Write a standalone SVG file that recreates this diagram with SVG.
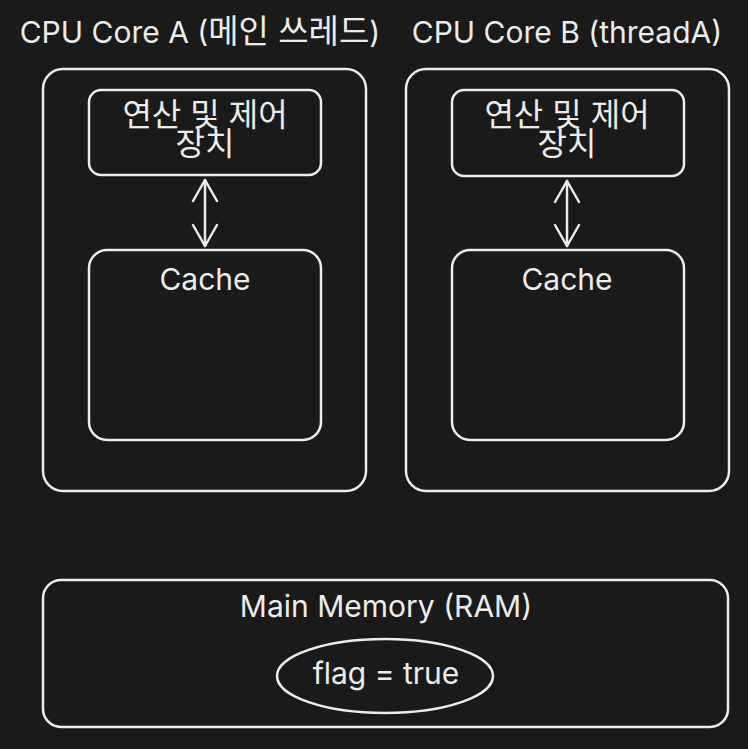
<svg xmlns="http://www.w3.org/2000/svg" width="748" height="749" viewBox="0 0 748 749">
<defs>
<style>
.box{fill:none;stroke:#ececec;stroke-width:2.5;stroke-linecap:round;stroke-linejoin:round}
.t{fill:#ececec;font-family:Inter,"Noto Sans CJK KR","Noto Sans",sans-serif;text-anchor:middle}
.title{font-size:30px}
.lbl{font-size:30px}
.kr{font-size:32px}
.conn{fill:none;stroke:#ececec;stroke-width:2.5;stroke-linecap:round;stroke-linejoin:round}
</style>
<marker id="ah" viewBox="0 0 26 28" refX="23" refY="14" markerWidth="26" markerHeight="28" markerUnits="userSpaceOnUse" orient="auto-start-reverse">
<path d="M2 2 L23 14 L2 26" fill="none" stroke="#ececec" stroke-width="2.5" stroke-linecap="round" stroke-linejoin="round"/>
</marker>
</defs>
<rect width="748" height="749" fill="#1a1a1a"/>
<g id="coreA">
<text class="t title" x="200" y="43">CPU Core A (<tspan font-size="33">메인 쓰레드</tspan>)</text>
<rect class="box" x="43" y="69" width="323" height="422" rx="20"/>
</g>
<g id="aluA">
<rect class="box" x="89" y="90" width="232" height="85" rx="12"/>
<text class="t kr" x="205" y="126">연산 및 제어<tspan x="205" dy="29">장치</tspan></text>
</g>
<g id="cacheA">
<rect class="box" x="89" y="250" width="232" height="190" rx="18"/>
<text class="t lbl" x="205" y="290">Cache</text>
</g>
<g id="coreB">
<text class="t title" x="567" y="43">CPU Core B (threadA)</text>
<rect class="box" x="406" y="69" width="323" height="422" rx="20"/>
</g>
<g id="aluB">
<rect class="box" x="452" y="90" width="232" height="86" rx="12"/>
<text class="t kr" x="567" y="126">연산 및 제어<tspan x="567" dy="29">장치</tspan></text>
</g>
<g id="cacheB">
<rect class="box" x="452" y="250" width="232" height="190" rx="18"/>
<text class="t lbl" x="567" y="290">Cache</text>
</g>
<g id="ram">
<rect class="box" x="43" y="580" width="685" height="147" rx="18"/>
<text class="t lbl" x="386" y="617">Main Memory (RAM)</text>
</g>
<g id="flag">
<ellipse class="box" cx="385" cy="676" rx="108" ry="37"/>
<text class="t lbl" x="386" y="684">flag = true</text>
</g>
<g id="connectors">
<line class="conn" x1="205" y1="180" x2="205" y2="246" marker-start="url(#ah)" marker-end="url(#ah)"/>
<line class="conn" x1="567" y1="181" x2="567" y2="246" marker-start="url(#ah)" marker-end="url(#ah)"/>
</g>
</svg>
